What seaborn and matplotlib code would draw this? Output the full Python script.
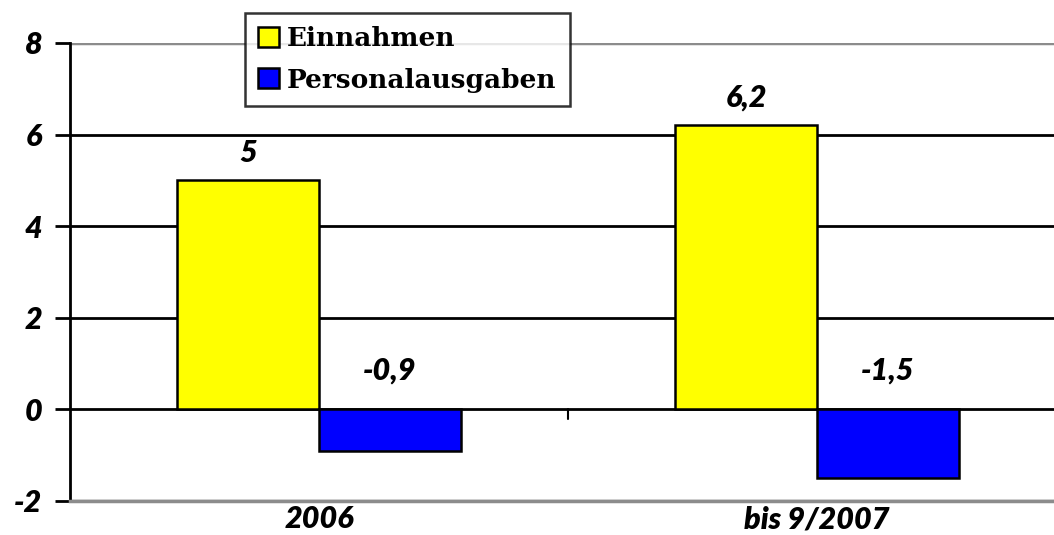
import pandas as pd
import numpy as np
import matplotlib
matplotlib.use('Agg')
import matplotlib.pyplot as plt
import seaborn as sns
from matplotlib.patches import Patch

# =========================
# DATA
# =========================
categories = ["2006", "bis 9/2007"]
series = ["Einnahmen", "Personalausgaben"]
einnahmen = [5.0, 6.2]
personal = [-0.9, -1.5]
value_labels = [["5", "6,2"], ["-0,9", "-1,5"]]
y_ticks = [-2, 0, 2, 4, 6, 8]

df = pd.DataFrame({
    "Jahr": categories * 2,
    "Reihe": [series[0]] * 2 + [series[1]] * 2,
    "Wert": einnahmen + personal,
})

colors = {"Einnahmen": "#FFFF00", "Personalausgaben": "#0000FF"}

# =========================
# PLOT
# =========================
sns.set_style("white")
plt.rcParams['font.family'] = ['Lato', 'DejaVu Sans']
plt.rcParams['text.color'] = 'black'
plt.rcParams['xtick.color'] = 'black'
plt.rcParams['ytick.color'] = 'black'

fig = plt.figure(figsize=(10.54, 5.35), dpi=100)
ax = fig.add_axes([70 / 1054, 1 - 501 / 535, (1066 - 70) / 1054, (501 - 43) / 535])

sns.barplot(data=df, x="Jahr", y="Wert", hue="Reihe", palette=colors,
            width=0.57, saturation=1, edgecolor="black", linewidth=1.8,
            legend=False, ax=ax)

ax.set_xlim(-0.5, 1.5)
ax.set_ylim(-2, 8)
tick_font = {"fontsize": 22, "fontweight": "heavy", "fontstyle": "italic"}
ax.set_yticks(y_ticks)
ax.set_yticklabels([str(t) for t in y_ticks], **tick_font)
ax.set_xticks([0, 1])
ax.set_xticklabels(categories, **tick_font)
ax.tick_params(axis="y", length=11, width=2, color="black", pad=9, left=True)
ax.tick_params(axis="x", length=0, pad=3)
ax.set_xlabel("")
ax.set_ylabel("")

# gridlines
ax.set_axisbelow(True)
ax.yaxis.grid(True, color="black", linewidth=2)
for t, gl in zip(y_ticks, ax.get_ygridlines()):
    if t in (-2, 8):
        gl.set_color("#8c8c8c")
        gl.set_linewidth(2.5)

for s in ["top", "right"]:
    ax.spines[s].set_visible(False)
ax.spines["left"].set_color("black")
ax.spines["left"].set_linewidth(2)
ax.spines["bottom"].set_color("#8c8c8c")
ax.spines["bottom"].set_linewidth(2.5)

# small category separator tick at zero line
ax.plot([0.5, 0.5], [0, -0.22], color="black", linewidth=1.5)

# value labels
for i, bars in enumerate(ax.containers):
    for j, bar in enumerate(bars):
        x = bar.get_x() + bar.get_width() / 2
        h = bar.get_height()
        y = h + 0.3 if h > 0 else 0.55
        ax.text(x, y, value_labels[i][j], ha="center", va="bottom", **tick_font)

# legend
handles = [Patch(facecolor=colors[s], edgecolor="black", linewidth=1.8, label=s)
           for s in series]
leg = fig.legend(handles=handles, loc="upper left",
                 bbox_to_anchor=(245 / 1054, 1 - 13 / 535),
                 prop={"family": "DejaVu Serif", "weight": "bold", "size": 19},
                 frameon=True, fancybox=False, borderpad=0.5,
                 handlelength=0.8, handleheight=0.8, handletextpad=0.3,
                 labelspacing=0.62, borderaxespad=0)
leg.get_frame().set_edgecolor("black")
leg.get_frame().set_linewidth(1.8)

fig.savefig("out.png", dpi=100)
plt.close()
